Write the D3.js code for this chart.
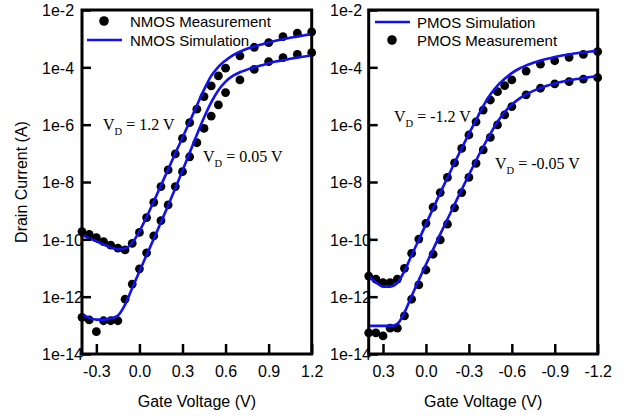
<!DOCTYPE html>
<html>
<head>
<meta charset="utf-8">
<script src="https://cdn.jsdelivr.net/npm/d3@7"></script>
<style>
  body { margin: 0; background: #fff; }
  svg text { font-family: "Liberation Sans", Arial, sans-serif; fill: #000; }
  svg text.anno { font-family: "Liberation Serif", "Times New Roman", serif; }
</style>
</head>
<body>
<svg id="chart" width="631" height="417"></svg>
<script>
// values are log10 of the drain current (A)
var nMeasV = [-0.4, -0.35, -0.3, -0.25, -0.2, -0.15, -0.1, -0.05, 0, 0.05, 0.1, 0.15, 0.2, 0.25, 0.3, 0.35, 0.4, 0.45, 0.5, 0.55, 0.6, 0.7, 0.8, 0.9, 1.0, 1.1, 1.2];
var nMeasHigh = [-9.73, -9.83, -9.94, -10.08, -10.20, -10.31, -10.37, -10.14, -9.76, -9.24, -8.71, -8.16, -7.58, -7.02, -6.48, -5.93, -5.46, -5.02, -4.65, -4.30, -4.03, -3.60, -3.30, -3.14, -2.93, -2.81, -2.76];
var nMeasLow = [-12.72, -12.81, -13.22, -12.84, -12.84, -12.84, -12.09, -11.56, -11.03, -10.47, -9.88, -9.35, -8.80, -8.16, -7.64, -7.12, -6.63, -6.13, -5.70, -5.31, -4.88, -4.44, -4.07, -3.80, -3.66, -3.55, -3.49];

var nSimV = [-0.4, -0.35, -0.3, -0.25, -0.2, -0.15, -0.1, -0.05, 0, 0.05, 0.1, 0.15, 0.2, 0.25, 0.3, 0.35, 0.4, 0.45, 0.5, 0.55, 0.6, 0.65, 0.7, 0.75, 0.8, 0.85, 0.9, 0.95, 1.0, 1.05, 1.1, 1.15, 1.2];
var nSimHigh = [-9.85, -9.96, -10.07, -10.18, -10.28, -10.35, -10.32, -10.12, -9.72, -9.22, -8.68, -8.12, -7.56, -7.00, -6.45, -5.90, -5.33, -4.78, -4.30, -3.98, -3.76, -3.58, -3.45, -3.35, -3.27, -3.20, -3.13, -3.07, -3.02, -2.97, -2.92, -2.88, -2.84];
var nSimLow = [-12.62, -12.74, -12.80, -12.80, -12.76, -12.66, -12.28, -11.70, -11.12, -10.55, -9.98, -9.40, -8.82, -8.22, -7.60, -6.98, -6.35, -5.75, -5.22, -4.80, -4.50, -4.30, -4.17, -4.08, -4.00, -3.93, -3.86, -3.80, -3.75, -3.70, -3.66, -3.62, -3.58];

var pMeasV = [0.4, 0.35, 0.3, 0.25, 0.2, 0.15, 0.1, 0.05, 0, -0.05, -0.1, -0.15, -0.2, -0.25, -0.3, -0.35, -0.4, -0.45, -0.5, -0.55, -0.6, -0.7, -0.8, -0.9, -1.0, -1.1, -1.2];
var pMeasHigh = [-11.28, -11.39, -11.51, -11.51, -11.39, -11.01, -10.49, -9.99, -9.44, -8.88, -8.37, -7.84, -7.33, -6.83, -6.36, -5.90, -5.49, -5.14, -4.85, -4.64, -4.44, -4.13, -3.89, -3.77, -3.65, -3.55, -3.45];
var pMeasLow = [-13.26, -13.26, -13.37, -13.10, -13.10, -12.67, -12.09, -11.59, -11.07, -10.52, -10.02, -9.47, -8.90, -8.37, -7.84, -7.35, -6.88, -6.44, -6.01, -5.66, -5.37, -4.96, -4.73, -4.58, -4.50, -4.41, -4.36];

var pSimV = [0.4, 0.35, 0.3, 0.25, 0.2, 0.15, 0.1, 0.05, 0, -0.05, -0.1, -0.15, -0.2, -0.25, -0.3, -0.35, -0.4, -0.45, -0.5, -0.55, -0.6, -0.65, -0.7, -0.75, -0.8, -0.85, -0.9, -0.95, -1.0, -1.05, -1.1, -1.15, -1.2];
var pSimHigh = [-11.30, -11.50, -11.65, -11.65, -11.52, -11.10, -10.55, -10.02, -9.47, -8.92, -8.38, -7.85, -7.33, -6.82, -6.32, -5.84, -5.35, -4.95, -4.64, -4.40, -4.20, -4.05, -3.93, -3.84, -3.76, -3.70, -3.64, -3.59, -3.55, -3.51, -3.48, -3.45, -3.42];
var pSimLow = [-13.02, -13.02, -13.02, -13.02, -12.95, -12.55, -11.98, -11.42, -10.88, -10.35, -9.82, -9.30, -8.78, -8.26, -7.75, -7.25, -6.77, -6.32, -5.90, -5.56, -5.30, -5.10, -4.94, -4.82, -4.72, -4.63, -4.56, -4.50, -4.45, -4.41, -4.37, -4.34, -4.31];

var yTicks = [1e-2, 1e-4, 1e-6, 1e-8, 1e-10, 1e-12, 1e-14];
var yTickLabels = ["1e-2", "1e-4", "1e-6", "1e-8", "1e-10", "1e-12", "1e-14"];
var nTicks = [-0.3, 0, 0.3, 0.6, 0.9, 1.2];
var nTickLabels = ["-0.3", "0.0", "0.3", "0.6", "0.9", "1.2"];
var pTicks = [0.3, 0, -0.3, -0.6, -0.9, -1.2];
var pTickLabels = ["0.3", "0.0", "-0.3", "-0.6", "-0.9", "-1.2"];

var svg = d3.select("#chart");
var top_ = 10, bottom = 354;
var blue = "#1010f0";

var y = d3.scaleLog().domain([1e-14, 1e-2]).range([bottom, top_]);

function pts(xs, ys) {
  return xs.map((v, i) => ({ v: v, i: Math.pow(10, ys[i]) }));
}

function panel(opt) {
  var x = d3.scaleLinear().domain(opt.domain).range([opt.left, opt.right]);
  var g = svg.append("g");

  // measured dots
  [opt.measHigh, opt.measLow].forEach(function(s) {
    g.append("g").selectAll("circle")
    .data(pts(opt.measV, s))
    .join("circle")
    .attr("cx", d => x(d.v))
    .attr("cy", d => y(d.i))
    .attr("r", 4.4)
    .attr("fill", "#000");
  });

  var line = d3.line()
  .x(d => x(d.v))
  .y(d => y(d.i))
  .curve(d3.curveMonotoneX);

  [opt.simHigh, opt.simLow].forEach(function(s) {
    g.append("path")
    .datum(pts(opt.simV, s))
    .attr("d", line)
    .attr("fill", "none")
    .attr("stroke", blue)
    .attr("stroke-width", 2.6);
  });

  // frame
  g.append("rect")
  .attr("x", opt.left)
  .attr("y", top_)
  .attr("width", opt.right - opt.left)
  .attr("height", bottom - top_)
  .attr("fill", "none")
  .attr("stroke", "#000")
  .attr("stroke-width", 3);

  var xAxis = g.append("g")
  .attr("transform", `translate(0,${bottom})`)
  .call(d3.axisBottom(x).tickValues(opt.ticks)
    .tickFormat((d, i) => opt.tickLabels[i])
    .tickSizeInner(-10).tickSizeOuter(0).tickPadding(12));
  xAxis.select(".domain").remove();
  xAxis.selectAll("line").attr("stroke-width", 2.5);
  xAxis.selectAll("text").attr("font-size", 16).attr("font-family", null);

  var yAxis = g.append("g")
  .attr("transform", `translate(${opt.left},0)`)
  .call(d3.axisLeft(y).tickValues(yTicks)
    .tickFormat((d, i) => yTickLabels[i])
    .tickSizeInner(-9).tickSizeOuter(0));
  yAxis.select(".domain").remove();
  yAxis.selectAll("line").attr("stroke-width", 2.5);
  yAxis.selectAll("text")
  .attr("font-size", 16)
  .attr("font-family", null)
  .attr("text-anchor", "start")
  .attr("x", opt.labelX - opt.left)
  .attr("dy", "0.36em");

  g.append("text")
  .attr("x", (opt.left + opt.right) / 2)
  .attr("y", 407)
  .attr("text-anchor", "middle")
  .attr("font-size", 16)
  .text("Gate Voltage (V)");

  // annotations
  opt.annos.forEach(function(a) {
    var t = g.append("text")
    .attr("class", "anno")
    .attr("x", a.x)
    .attr("y", a.y)
    .attr("font-size", 16);
    t.append("tspan").text("V");
    t.append("tspan").attr("font-size", 10.5).attr("dy", 5).text("D");
    t.append("tspan").attr("dy", -5).text(" = " + a.label);
  });

  return g;
}

var left = panel({
  left: 82, right: 311.7, labelX: 42, domain: [-0.4, 1.2],
  ticks: nTicks, tickLabels: nTickLabels,
  measV: nMeasV, measHigh: nMeasHigh, measLow: nMeasLow,
  simV: nSimV, simHigh: nSimHigh, simLow: nSimLow,
  annos: [{ x: 103, y: 130, label: "1.2 V" }, { x: 203, y: 162, label: "0.05 V" }]
});

var right = panel({
  left: 368.7, right: 597.7, labelX: 330, domain: [0.4, -1.2],
  ticks: pTicks, tickLabels: pTickLabels,
  measV: pMeasV, measHigh: pMeasHigh, measLow: pMeasLow,
  simV: pSimV, simHigh: pSimHigh, simLow: pSimLow,
  annos: [{ x: 394, y: 122, label: "-1.2 V" }, { x: 495, y: 169, label: "-0.05 V" }]
});

svg.append("text")
.attr("transform", "translate(27,182) rotate(-90)")
.attr("text-anchor", "middle")
.attr("font-size", 16)
.text("Drain Current (A)");

// legends
function legendDot(g, cx, cy) {
  g.append("circle").attr("cx", cx).attr("cy", cy).attr("r", 4.8).attr("fill", "#000");
}
function legendLine(g, x1, x2, yy) {
  g.append("line").attr("x1", x1).attr("x2", x2).attr("y1", yy).attr("y2", yy)
  .attr("stroke", blue).attr("stroke-width", 2.6);
}
function legendText(g, tx, ty, label) {
  g.append("text").attr("x", tx).attr("y", ty).attr("font-size", 15).text(label);
}

legendDot(left, 104, 21);
legendText(left, 130, 26.5, "NMOS Measurement");
legendLine(left, 87, 122, 40);
legendText(left, 130, 45.5, "NMOS Simulation");

legendLine(right, 375, 410, 22);
legendText(right, 417, 27.5, "PMOS Simulation");
legendDot(right, 392, 40);
legendText(right, 417, 45.5, "PMOS Measurement");
</script>
</body>
</html>
